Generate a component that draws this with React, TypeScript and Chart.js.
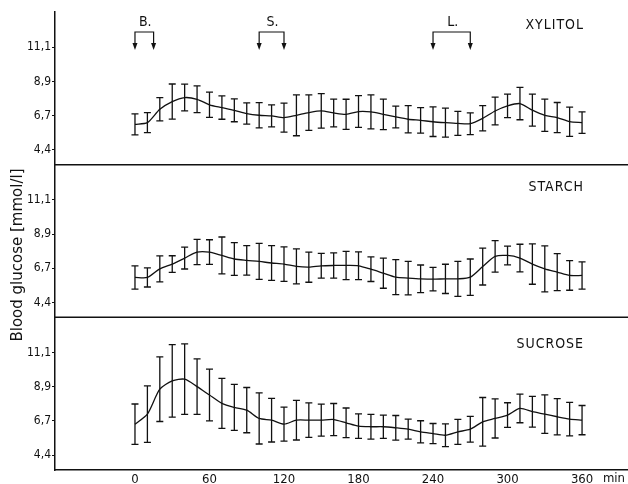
import React, { useEffect, useRef } from "react";
import { Chart, registerables } from "chart.js";

Chart.register(...registerables);

const minutes = [0, 10, 20, 30, 40, 50, 60, 70, 80, 90, 100, 110, 120, 130, 140, 150, 160, 170, 180, 190, 200, 210, 220, 230, 240, 250, 260, 270, 280, 290, 300, 310, 320, 330, 340, 350, 360];

const xylitolMean = [6.10, 6.21, 7.08, 7.58, 7.84, 7.73, 7.37, 7.19, 7.01, 6.80, 6.69, 6.65, 6.54, 6.69, 6.86, 6.97, 6.84, 6.75, 6.93, 6.91, 6.75, 6.58, 6.43, 6.36, 6.27, 6.21, 6.16, 6.14, 6.49, 6.97, 7.30, 7.45, 7.02, 6.69, 6.54, 6.27, 6.21];
const xylitolSD = [0.68, 0.65, 0.75, 1.14, 0.87, 0.87, 0.82, 0.76, 0.74, 0.69, 0.82, 0.71, 0.94, 1.33, 1.15, 1.12, 0.90, 0.98, 1.03, 1.11, 0.99, 0.71, 0.89, 0.83, 0.96, 0.94, 0.78, 0.71, 0.82, 0.90, 0.76, 1.05, 1.04, 1.05, 0.98, 0.95, 0.70];

const starchMean = [6.07, 6.07, 6.63, 6.94, 7.33, 7.72, 7.72, 7.50, 7.27, 7.18, 7.11, 7.01, 6.94, 6.79, 6.74, 6.83, 6.85, 6.85, 6.83, 6.61, 6.35, 6.09, 6.03, 5.98, 5.96, 5.98, 5.98, 6.09, 6.78, 7.44, 7.50, 7.33, 6.94, 6.63, 6.42, 6.20, 6.20];
const starchSD = [0.76, 0.62, 0.84, 0.54, 0.71, 0.82, 0.80, 1.20, 1.06, 0.96, 1.17, 1.13, 1.12, 1.14, 0.98, 0.80, 0.82, 0.92, 0.90, 0.80, 0.98, 1.14, 1.09, 0.90, 0.76, 0.95, 1.14, 1.18, 1.20, 1.02, 0.61, 0.90, 1.31, 1.49, 1.20, 0.96, 0.89];

const sucroseMean = [6.46, 7.11, 8.73, 9.27, 9.38, 8.90, 8.35, 7.81, 7.55, 7.37, 6.83, 6.72, 6.46, 6.72, 6.72, 6.72, 6.76, 6.55, 6.33, 6.29, 6.29, 6.22, 6.13, 5.96, 5.85, 5.74, 5.96, 6.13, 6.61, 6.83, 7.05, 7.48, 7.27, 7.11, 6.94, 6.79, 6.72];
const sucroseSD = [1.31, 1.83, 2.10, 2.36, 2.29, 1.80, 1.68, 1.63, 1.49, 1.47, 1.66, 1.42, 1.11, 1.29, 1.12, 1.04, 1.04, 0.96, 0.80, 0.80, 0.76, 0.80, 0.65, 0.72, 0.65, 0.74, 0.81, 0.84, 1.58, 1.27, 0.80, 0.93, 1.00, 1.25, 1.18, 1.09, 0.95];

const panelNames = ["XYLITOL", "STARCH", "SUCROSE"];
const xTickValues = [0, 60, 120, 180, 240, 300, 360];
const xUnit = "min";
const yTickValues = [4.444, 6.667, 8.889, 11.111];
const yTickLabels = ["4,4", "6,7", "8,9", "11,1"];
const yTitle = "Blood glucose [mmol/l]";

const mealLabels = ["B.", "S.", "L."];
const mealStarts = [0, 100, 240];
const mealEnds = [15, 120, 270];

const FONT = '"DejaVu Sans Condensed", "Liberation Sans Narrow", "DejaVu Sans", sans-serif';
const FONT_WIDE = '"DejaVu Sans", sans-serif';
const INK = "#111";

const panelIds = ["yXyl", "ySta", "ySuc"];
const panelMeans = [xylitolMean, starchMean, sucroseMean];
const panelSDs = [xylitolSD, starchSD, sucroseSD];

const errorBarPlugin = {
  id: "errorBars",
  afterDatasetsDraw(chart: any) {
    const ctx = chart.ctx;
    ctx.save();
    ctx.strokeStyle = INK;
    ctx.lineWidth = 1.3;
    chart.data.datasets.forEach((ds: any, i: number) => {
      const meta = chart.getDatasetMeta(i);
      const ys = chart.scales[meta.yAxisID];
      const sds = panelSDs[i];
      const means = panelMeans[i];
      meta.data.forEach((pt: any, j: number) => {
        const x = pt.x;
        const yt = ys.getPixelForValue(means[j] + sds[j]);
        const yb = ys.getPixelForValue(means[j] - sds[j]);
        ctx.beginPath();
        ctx.moveTo(x, yt);
        ctx.lineTo(x, yb);
        ctx.moveTo(x - 3.5, yt);
        ctx.lineTo(x + 3.5, yt);
        ctx.moveTo(x - 3.5, yb);
        ctx.lineTo(x + 3.5, yb);
        ctx.stroke();
      });
    });
    ctx.restore();
  },
};

const decorPlugin = {
  id: "decor",
  afterDraw(chart: any) {
    const ctx = chart.ctx;
    const area = chart.chartArea;
    const xs = chart.scales.x;
    ctx.save();
    ctx.strokeStyle = INK;
    ctx.fillStyle = INK;
    // separators between panels
    ctx.lineWidth = 1.5;
    [chart.scales[panelIds[0]], chart.scales[panelIds[1]]].forEach((s: any) => {
      ctx.beginPath();
      ctx.moveTo(area.left, s.bottom);
      ctx.lineTo(chart.width, s.bottom);
      ctx.stroke();
    });
    // panel names
    const nameOffsets = [13, 23, 27];
    ctx.font = `14px ${FONT}`;
    (ctx as any).letterSpacing = "1px";
    ctx.textAlign = "right";
    ctx.textBaseline = "middle";
    panelIds.forEach((id, i) => {
      const s = chart.scales[id];
      ctx.fillText(panelNames[i], xs.getPixelForValue(360) + 2, s.top + nameOffsets[i]);
    });
    (ctx as any).letterSpacing = "0px";
    // meal brackets
    const top = chart.scales[panelIds[0]].top;
    const yBar = top + 20;
    const yTip = top + 38;
    ctx.lineWidth = 1.2;
    ctx.textAlign = "center";
    ctx.font = `14px ${FONT}`;
    mealLabels.forEach((lab, i) => {
      const x0 = xs.getPixelForValue(mealStarts[i]);
      const x1 = xs.getPixelForValue(mealEnds[i]);
      ctx.beginPath();
      ctx.moveTo(x0, yTip - 5);
      ctx.lineTo(x0, yBar);
      ctx.lineTo(x1, yBar);
      ctx.lineTo(x1, yTip - 5);
      ctx.stroke();
      [x0, x1].forEach((x) => {
        ctx.beginPath();
        ctx.moveTo(x - 2.5, yTip - 7);
        ctx.lineTo(x + 2.5, yTip - 7);
        ctx.lineTo(x, yTip);
        ctx.closePath();
        ctx.fill();
      });
      ctx.fillText(lab, (x0 + x1) / 2 + 1, top + 10.5);
    });
    // unit label on x axis
    ctx.font = `13px ${FONT}`;
    ctx.textAlign = "center";
    ctx.textBaseline = "top";
    ctx.fillText(xUnit, 614, xs.top + 2);
    // y title
    ctx.save();
    ctx.translate(18, 255);
    ctx.rotate(-Math.PI / 2);
    ctx.font = `15px ${FONT_WIDE}`;
    ctx.textAlign = "center";
    ctx.textBaseline = "middle";
    ctx.fillText(yTitle, 0, 0);
    ctx.restore();
    ctx.restore();
  },
};

function yScale() {
  return {
    type: "linear",
    position: "left",
    stack: "panels",
    stackWeight: 1,
    min: 3.48,
    max: 13.4,
    afterBuildTicks: (s: any) => {
      s.ticks = yTickValues.map((v) => ({ value: v }));
    },
    afterFit: (s: any) => {
      s.width = 55;
    },
    grid: { display: true, drawOnChartArea: false, drawTicks: true, tickLength: 3, color: INK, lineWidth: 1 },
    border: { display: true, color: INK, width: 1.5 },
    ticks: {
      color: INK,
      padding: 1,
      font: { family: FONT, size: 12 },
      callback: (v: number) => {
        const k = yTickValues.findIndex((t) => Math.abs(t - v) < 1e-6);
        return k >= 0 ? yTickLabels[k] : "";
      },
    },
  };
}

export default function App() {
  const ref = useRef<HTMLCanvasElement>(null);
  useEffect(() => {
    if (!ref.current) return;
    const datasets = panelIds.map((id, i) => ({
      label: panelNames[i],
      data: minutes.map((m, j) => ({ x: m, y: panelMeans[i][j] })),
      yAxisID: id,
      borderColor: INK,
      borderWidth: 1.3,
      pointRadius: 0,
      tension: 0.25,
      fill: false,
    }));
    const scales: any = {
      x: {
        type: "linear",
        position: "bottom",
        min: -64.4,
        max: 397,
        afterBuildTicks: (s: any) => {
          s.ticks = xTickValues.map((v) => ({ value: v }));
        },
        afterFit: (s: any) => {
          s.height = 14;
        },
        grid: { display: false, drawTicks: false },
        border: { display: true, color: INK, width: 1.5 },
        ticks: { color: INK, padding: 2, maxRotation: 0, font: { family: FONT, size: 13 } },
      },
    };
    // stacked axes are laid out bottom-up in declaration order
    [...panelIds].reverse().forEach((id) => {
      scales[id] = yScale();
    });
    const chart = new Chart(ref.current, {
      type: "line",
      data: { datasets },
      options: {
        responsive: false,
        animation: false,
        layout: { padding: { top: 12, left: 0, right: 0, bottom: 0 } },
        plugins: { legend: { display: false }, tooltip: { enabled: false } },
        scales,
      },
      plugins: [errorBarPlugin, decorPlugin],
    } as any);
    return () => chart.destroy();
  }, []);
  return (
    <div style={{ position: "absolute", left: 0, top: 0, width: 628, height: 484, background: "#fff" }}>
      <canvas ref={ref} width={628} height={484} style={{ display: "block" }} />
    </div>
  );
}
